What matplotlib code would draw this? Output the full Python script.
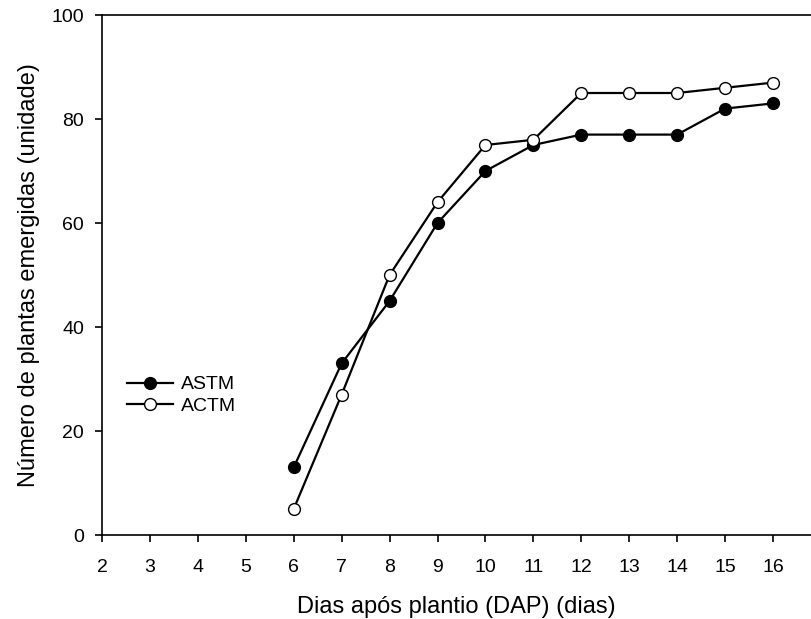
import matplotlib
matplotlib.use('Agg')
import matplotlib.pyplot as plt

dias = [6, 7, 8, 9, 10, 11, 12, 13, 14, 15, 16]
astm = [13, 33, 45, 60, 70, 75, 77, 77, 77, 82, 83]
actm = [5, 27, 50, 64, 75, 76, 85, 85, 85, 86, 87]
xticks = list(range(2, 17))
yticks = [0, 20, 40, 60, 80, 100]

plt.rcParams['font.family'] = ['Liberation Sans', 'DejaVu Sans']

fig = plt.figure(figsize=(8.11, 6.19), dpi=100)
ax = fig.add_axes([102/811, 1 - 535/619, 1 - 102/811, (535 - 15)/619])

ax.plot(dias, astm, color='black', lw=1.6, marker='o', ms=8.5,
        mfc='black', mec='black', mew=1.0, label='ASTM', clip_on=False, zorder=3)
ax.plot(dias, actm, color='black', lw=1.6, marker='o', ms=8.5,
        mfc='white', mec='black', mew=1.0, label='ACTM', clip_on=False, zorder=3)

ax.set_xlim(2, 2 + (811 - 102) / ((773 - 102) / 14))
ax.set_ylim(0, 100)
ax.set_xticks(xticks)
ax.set_yticks(yticks)
ax.tick_params(direction='out', length=5, width=1.2, labelsize=14, colors='black')
ax.tick_params(axis='x', pad=12)
ax.tick_params(axis='y', pad=8)
ax.spines['right'].set_visible(False)
for s in ['left', 'bottom', 'top']:
    ax.spines[s].set_linewidth(1.2)

ax.set_xlabel('Dias após plantio (DAP) (dias)', fontsize=17, labelpad=15)
ax.set_ylabel('Número de plantas emergidas (unidade)', fontsize=17, labelpad=8)

leg = ax.legend(loc='upper left', bbox_to_anchor=(0.01, 0.34), frameon=False,
                fontsize=14, handlelength=2.4, handletextpad=0.4, labelspacing=0.2)

fig.savefig('out.png', dpi=100)
